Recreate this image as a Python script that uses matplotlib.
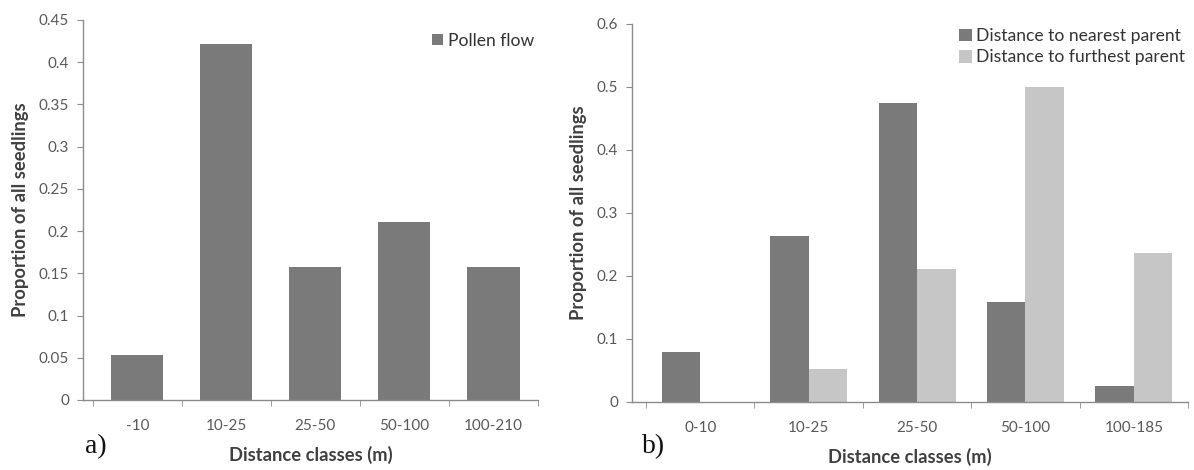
import matplotlib
matplotlib.use("Agg")
import matplotlib.pyplot as plt
from matplotlib.ticker import FuncFormatter, MultipleLocator
import numpy as np

plt.rcParams['font.family'] = ['Lato', 'DejaVu Sans']

# panel a) pollen flow
classes_a = ['-10', '10-25', '25-50', '50-100', '100-210']
pollen_flow = [0.053, 0.421, 0.158, 0.211, 0.158]

# panel b) seed dispersal
classes_b = ['0-10', '10-25', '25-50', '50-100', '100-185']
nearest_parent = [0.079, 0.263, 0.474, 0.158, 0.026]
furthest_parent = [0.0, 0.053, 0.211, 0.5, 0.237]

dark = '#7a7a7a'
light = '#c6c6c6'
axis_col = '#8c8c8c'
tick_col = '#595959'
label_col = '#404040'


def style_axis(ax, n):
    for s in ['top', 'right']:
        ax.spines[s].set_visible(False)
    for s in ['left', 'bottom']:
        ax.spines[s].set_color(axis_col)
        ax.spines[s].set_linewidth(1.0)
    ax.set_xticks(np.arange(n))
    ax.set_xticks(np.arange(n + 1) - 0.5, minor=True)
    ax.tick_params(axis='x', which='major', length=0, pad=14, labelsize=11, colors=tick_col)
    ax.tick_params(axis='x', which='minor', length=4, color=axis_col)
    ax.tick_params(axis='y', length=4, color=axis_col, labelsize=11, labelcolor=tick_col, pad=6)
    ax.yaxis.set_major_formatter(FuncFormatter(lambda v, p: '%g' % round(v, 3)))
    ax.set_xlabel('Distance classes (m)', fontsize=13.2, fontweight='bold', color=label_col, labelpad=9)
    ax.set_ylabel('Proportion of all seedlings', fontsize=13.2, fontweight='bold', color=label_col, labelpad=7)


fig = plt.figure(figsize=(11.94, 4.70), dpi=100)

ax1 = fig.add_axes([0.0695, 0.149, 0.3811, 0.8085])
x = np.arange(len(classes_a))
ax1.bar(x, pollen_flow, width=0.585, color=dark, label='Pollen flow')
ax1.set_xlim(-0.61, 4.5)
ax1.set_ylim(0, 0.45)
ax1.yaxis.set_major_locator(MultipleLocator(0.05))
ax1.set_xticklabels(classes_a)
style_axis(ax1, len(classes_a))
fig.legend(handles=ax1.get_legend_handles_labels()[0], loc='upper left',
           bbox_to_anchor=(432 / 1194, 1 - 33 / 470), frameon=False, fontsize=12.6,
           borderpad=0, borderaxespad=0, handlelength=0.6, handleheight=0.6,
           handletextpad=0.3, labelcolor='#333333')

ax2 = fig.add_axes([0.5293, 0.1447, 0.4657, 0.8043])
xb = np.arange(len(classes_b))
w = 0.355
ax2.bar(xb - w / 2, nearest_parent, width=w, color=dark, label='Distance to nearest parent')
ax2.bar(xb + w / 2, furthest_parent, width=w, color=light, label='Distance to furthest parent')
ax2.set_xlim(-0.63, 4.5)
ax2.set_ylim(0, 0.6)
ax2.yaxis.set_major_locator(MultipleLocator(0.1))
ax2.set_xticklabels(classes_b)
style_axis(ax2, len(classes_b))
fig.legend(handles=ax2.get_legend_handles_labels()[0], loc='upper left',
           bbox_to_anchor=(959 / 1194, 1 - 28 / 470), frameon=False, fontsize=12.6,
           borderpad=0, borderaxespad=0, handlelength=0.74, handleheight=0.74,
           handletextpad=0.23, labelspacing=0.31, labelcolor='#333333')

fig.text(85 / 1194, 1 - 447 / 470, 'a)', family='Liberation Serif', fontsize=20,
         color='#111111', va='center')
fig.text(642 / 1194, 1 - 447 / 470, 'b)', family='Liberation Serif', fontsize=20,
         color='#111111', va='center')

fig.savefig('out.png', dpi=100, facecolor='white')
